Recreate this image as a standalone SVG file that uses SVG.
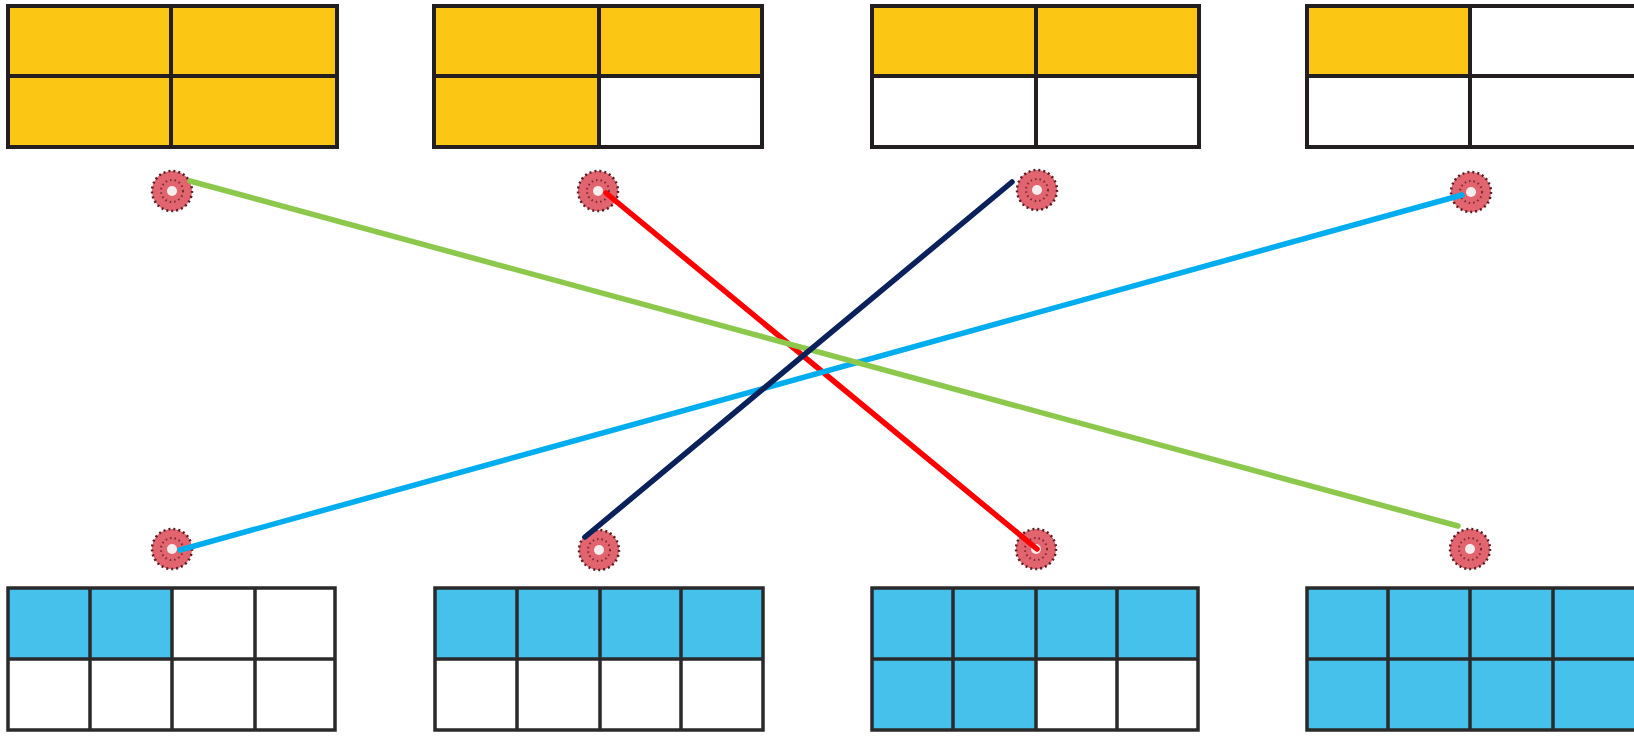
<svg xmlns="http://www.w3.org/2000/svg" width="1634" height="738" viewBox="0 0 1634 738">
<style>
.y{fill:#fbc614}
.b{fill:#46c1ec}
.w{fill:#ffffff}
.gl{stroke:#231f20;stroke-width:4;fill:none}
.gb{stroke:#2a2a2a;stroke-width:3.5;fill:none}
.c{fill:none;stroke-width:5.5;stroke-linecap:round}
.ring{fill:#e2646f;stroke:#5b1d24;stroke-width:2.5;stroke-dasharray:2 3}
.inner{fill:none;stroke:#7a2a32;stroke-width:2;stroke-dasharray:1.5 3}
.ctr{fill:#f6eeee}
</style>
<defs>
<g id="dot">
<circle r="20" class="ring"/>
<circle r="11" class="inner"/>
<circle r="5" class="ctr"/>
</g>
</defs>
<rect width="1634" height="738" fill="#ffffff"/>

<g id="top1">
<rect x="8" y="6" width="329" height="141" class="y"/>
<rect x="8" y="6" width="329" height="141" class="gl"/>
<path d="M171 6V147M8 76H337" class="gl"/>
</g>
<g id="top2">
<rect x="434" y="6" width="328" height="141" class="y"/>
<rect x="599" y="76" width="163" height="71" class="w"/>
<rect x="434" y="6" width="328" height="141" class="gl"/>
<path d="M599 6V147M434 76H762" class="gl"/>
</g>
<g id="top3">
<rect x="872" y="6" width="327" height="70" class="y"/>
<rect x="872" y="6" width="327" height="141" class="gl"/>
<path d="M1036 6V147M872 76H1199" class="gl"/>
</g>
<g id="top4">
<rect x="1307" y="6" width="163" height="70" class="y"/>
<rect x="1307" y="6" width="330" height="141" class="gl"/>
<path d="M1470 6V147M1307 76H1637" class="gl"/>
</g>

<g id="bot1">
<rect x="8" y="588" width="164" height="71" class="b"/>
<rect x="8" y="588" width="327" height="142" class="gb"/>
<path d="M90 588V730M172 588V730M255 588V730M8 659H335" class="gb"/>
</g>
<g id="bot2">
<rect x="435" y="588" width="328" height="71" class="b"/>
<rect x="435" y="588" width="328" height="142" class="gb"/>
<path d="M517 588V730M600 588V730M681 588V730M435 659H763" class="gb"/>
</g>
<g id="bot3">
<rect x="872" y="588" width="326" height="71" class="b"/>
<rect x="872" y="659" width="164" height="71" class="b"/>
<rect x="872" y="588" width="326" height="142" class="gb"/>
<path d="M953 588V730M1036 588V730M1117 588V730M872 659H1198" class="gb"/>
</g>
<g id="bot4">
<rect x="1307" y="588" width="330" height="142" class="b"/>
<rect x="1307" y="588" width="330" height="142" class="gb"/>
<path d="M1388 588V730M1470 588V730M1553 588V730M1307 659H1637" class="gb"/>
</g>

<g id="dots-top">
<use href="#dot" x="172" y="191"/>
<use href="#dot" x="598" y="191"/>
<use href="#dot" x="1037" y="190"/>
<use href="#dot" x="1471" y="192"/>
</g>
<g id="dots-bottom">
<use href="#dot" x="172" y="549"/>
<use href="#dot" x="599" y="550"/>
<use href="#dot" x="1036" y="549"/>
<use href="#dot" x="1470" y="549"/>
</g>

<g id="connectors">
<line x1="606" y1="193" x2="1037" y2="549" class="c" stroke="#ff0000"/>
<line x1="1462" y1="195" x2="180" y2="550" class="c" stroke="#00adef"/>
<line x1="190" y1="181" x2="1458" y2="526" class="c" stroke="#8cc84b"/>
<line x1="1012" y1="182" x2="585" y2="537" class="c" stroke="#0b215c"/>
</g>
</svg>
